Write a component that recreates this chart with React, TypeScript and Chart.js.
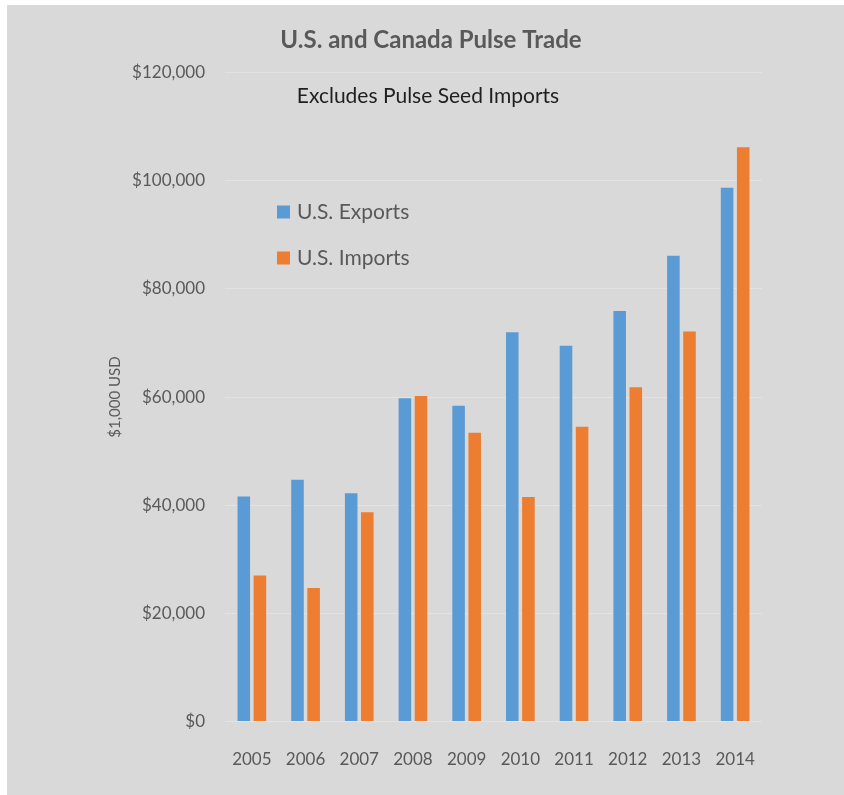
import React, { useEffect, useRef } from "react";
import { Chart, registerables } from "chart.js";

Chart.register(...registerables);

const years = ["2005", "2006", "2007", "2008", "2009", "2010", "2011", "2012", "2013", "2014"];
const usExports = [41600, 44700, 42200, 59800, 58400, 72000, 69500, 75900, 86100, 98700];
const usImports = [27000, 24700, 38700, 60200, 53400, 41500, 54500, 61800, 72100, 106200];
const seriesNames = ["U.S. Exports", "U.S. Imports"];
const chartTitle = "U.S. and Canada Pulse Trade";
const chartSubtitle = "Excludes Pulse Seed Imports";
const yAxisTitle = "$1,000 USD";

const FONT = "Lato, 'Open Sans', sans-serif";
const TEXT = "#595959";
const BLUE = "#5b9bd5";
const ORANGE = "#ed7d31";

const overlayPlugin = {
  id: "overlay",
  afterDraw(chart: any) {
    const { ctx, chartArea } = chart;
    ctx.save();
    ctx.textBaseline = "middle";
    ctx.textAlign = "center";
    // title
    ctx.fillStyle = TEXT;
    ctx.font = `bold 24px ${FONT}`;
    ctx.fillText(chartTitle, chartArea.left + 206, chartArea.top - 32);
    // subtitle
    ctx.fillStyle = "#1f1f1f";
    ctx.font = `21px ${FONT}`;
    ctx.fillText(chartSubtitle, chartArea.left + 203, chartArea.top + 24);
    // legend
    ctx.font = `21px ${FONT}`;
    ctx.textAlign = "left";
    chart.data.datasets.forEach((ds: any, i: number) => {
      const y = chartArea.top + 139 + i * 46;
      ctx.fillStyle = ds.backgroundColor;
      ctx.fillRect(chartArea.left + 52, y - 6, 13, 13);
      ctx.fillStyle = TEXT;
      ctx.fillText(ds.label, chartArea.left + 72, y + 1);
    });
    ctx.restore();
  },
};

export default function App() {
  const ref = useRef<HTMLCanvasElement>(null);
  useEffect(() => {
    document.body.style.overflow = "hidden";
    if (!ref.current) return;
    const chart = new Chart(ref.current, {
      type: "bar",
      data: {
        labels: years,
        datasets: [
          { label: seriesNames[0], data: usExports, backgroundColor: BLUE, borderWidth: 0 },
          { label: seriesNames[1], data: usImports, backgroundColor: ORANGE, borderWidth: 0 },
        ],
      },
      options: {
        animation: false,
        responsive: false,
        maintainAspectRatio: false,
        datasets: { bar: { categoryPercentage: 0.6, barPercentage: 0.78 } },
        layout: { padding: { left: 0, right: 82, top: 72.5, bottom: -3 } },
        plugins: {
          legend: { display: false },
          tooltip: { enabled: false },
          title: { display: false },
        },
        scales: {
          x: {
            grid: { display: false, drawTicks: false },
            border: { display: false },
            ticks: { color: TEXT, font: { family: FONT, size: 17 }, padding: 28 },
          },
          y: {
            min: 0,
            max: 120000,
            afterFit(scale: any) {
              scale.width = 225;
            },
            grid: { color: "#e3e3e3", lineWidth: 1, drawTicks: false },
            border: { display: false },
            ticks: {
              stepSize: 20000,
              color: TEXT,
              font: { family: FONT, size: 17 },
              padding: 20,
              callback: (v: any) => "$" + Number(v).toLocaleString("en-US"),
            },
            title: {
              display: true,
              text: yAxisTitle,
              color: TEXT,
              font: { family: FONT, size: 15 },
              padding: { top: 106, bottom: 0 },
            },
          },
        },
      },
      plugins: [overlayPlugin],
    });
    return () => chart.destroy();
  }, []);
  return (
    <div style={{ position: "absolute", left: 0, top: 0, width: 844, height: 795, background: "#ffffff", overflow: "hidden" }}>
      <div style={{ position: "absolute", left: 7, top: 5, width: 840, height: 795, background: "#d9d9d9" }} />
      <canvas ref={ref} width={844} height={795} style={{ position: "absolute", left: 0, top: 0, width: 844, height: 795 }} />
    </div>
  );
}
